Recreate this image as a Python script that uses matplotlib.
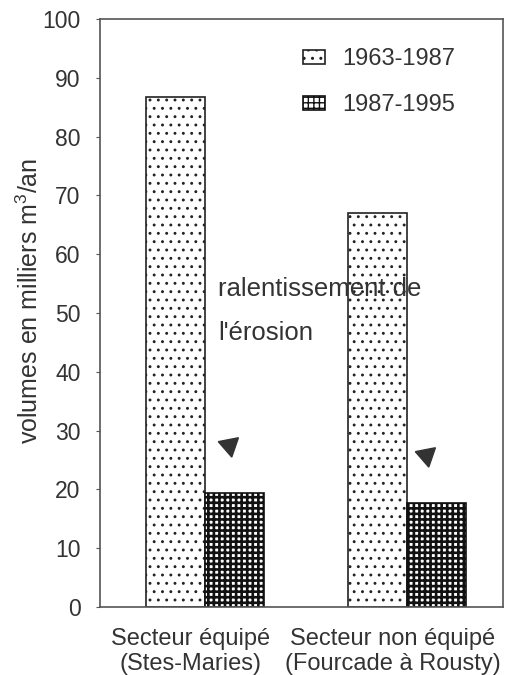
import matplotlib
matplotlib.use('Agg')
import matplotlib.pyplot as plt
import numpy as np

plt.rcParams['font.family'] = ['Liberation Sans', 'DejaVu Sans']
plt.rcParams['mathtext.fontset'] = 'custom'
plt.rcParams['mathtext.rm'] = 'Liberation Sans'
plt.rcParams['mathtext.it'] = 'Liberation Sans'

# data
secteurs = ['Secteur équipé\n(Stes-Maries)', 'Secteur non équipé\n(Fourcade à Rousty)']
periodes = ['1963-1987', '1987-1995']
v_1963_1987 = [86.8, 67.0]
v_1987_1995 = [19.4, 17.7]
yticks = [0, 10, 20, 30, 40, 50, 60, 70, 80, 90, 100]

txtcol = '#333333'
linecol = '#555555'

fig = plt.figure(figsize=(5.07, 6.75), dpi=100)
ax = fig.add_axes([0.197, 0.1007, 0.795, 0.8712])

x = np.arange(len(secteurs))
w = 0.29

b1 = ax.bar(x - w/2, v_1963_1987, w, facecolor='white', edgecolor='#222222',
            hatch='..', linewidth=1.2, label=periodes[0])
b2 = ax.bar(x + w/2, v_1987_1995, w, facecolor='white', edgecolor='#111111',
            hatch='+++', linewidth=1.2, label=periodes[1])
for p in b1:
    try:
        p.set_hatch_linewidth(0.9)
    except AttributeError:
        pass
for p in b2:
    try:
        p.set_hatch_linewidth(1.9)
    except AttributeError:
        pass

ax.set_xlim(-0.52, 1.475)
ax.set_ylim(0, 100)
ax.set_yticks(yticks)
ax.set_xticks(x - 0.07)
ax.set_xticklabels(secteurs, fontsize=17, color=txtcol, linespacing=1.2)
ax.tick_params(axis='y', labelsize=16.5, labelcolor=txtcol, length=3, pad=11, color=linecol)
ax.tick_params(axis='x', length=0, pad=15)
for s in ax.spines.values():
    s.set_color(linecol)
    s.set_linewidth(1.2)

ax.set_ylabel('volumes en milliers m$^3$/an', fontsize=18, color=txtcol)
ax.yaxis.set_label_coords(-0.142, 0.52)

# annotations
ax.text(0.064, 54, 'ralentissement de', fontsize=18.5, color=txtcol, va='center')
ax.text(0.064, 46.6, "l'érosion", fontsize=18.5, color=txtcol, va='center')
ax.plot([0.12], [27.6], marker=(3, 0, 191), markersize=17, color='#333333', linestyle='none')
ax.plot([1.095], [25.9], marker=(3, 0, 191), markersize=17, color='#333333', linestyle='none')

leg = ax.legend(loc='upper left', bbox_to_anchor=(0.48, 0.966), frameon=False,
                fontsize=17, labelspacing=1.0, handlelength=0.95, handleheight=0.55,
                handletextpad=0.7, borderaxespad=0, labelcolor=txtcol)

fig.savefig('out.png', dpi=100)
